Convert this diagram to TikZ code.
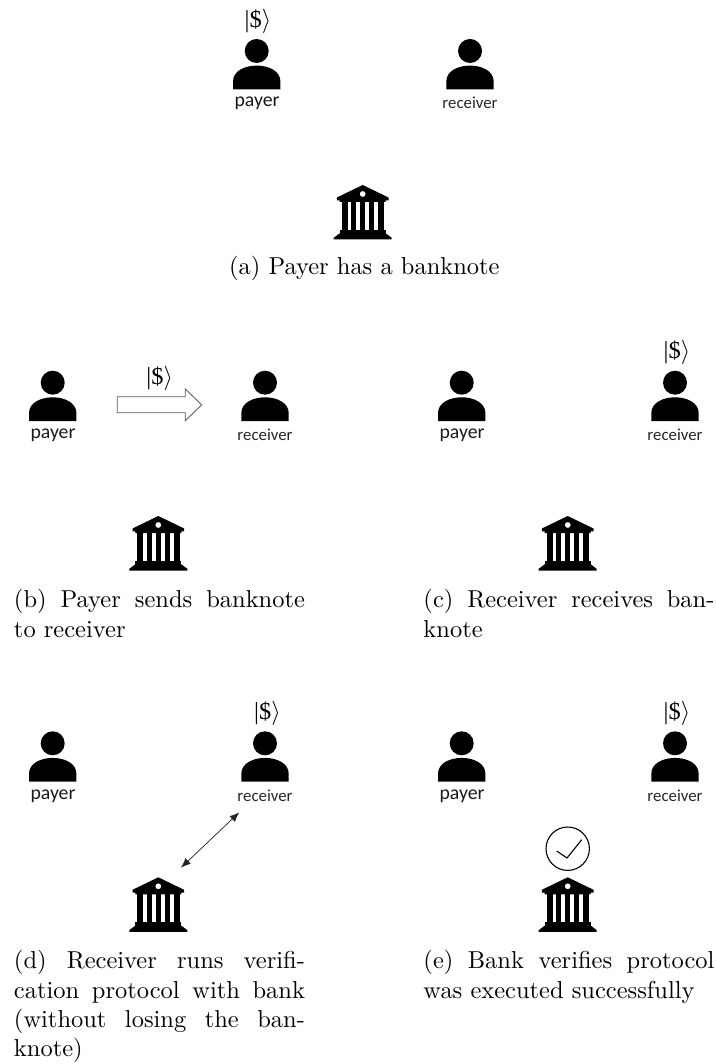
\documentclass[tikz,border=0pt]{standalone}
\usepackage{fontspec}
\newfontfamily\iconfont{Carlito}
\newfontfamily\ketfont{Liberation Serif}
\usetikzlibrary{arrows.meta}
\tikzset{
  x=0.4098pt,y=-0.4098pt,
  lbl/.style={inner sep=0pt,font=\iconfont\fontsize{6.9}{8}\selectfont,text=black!85},
  lblb/.style={inner sep=0pt,font=\iconfont\fontsize{8.1}{10}\selectfont,text=black!90},
  ket/.style={inner sep=0pt,font=\fontsize{10}{12}\selectfont},
  captxt/.style={inner sep=0pt,anchor=north west,text width=119.25pt,align=justify,font=\fontsize{10.03}{12}\selectfont},
  icon/.style={fill=black,draw=none},
  person/.pic={
    \fill[icon] (0,0) circle (12);
    \fill[icon] (-23.7,38.4) -- (-23.7,30.5) .. controls (-23.7,20) and (-12,14.6) .. (0,14.6) .. controls (12,14.6) and (23.7,20) .. (23.7,30.5) -- (23.7,38.4) -- cycle;
  },
  bank/.pic={
    \fill[icon,even odd rule] (0,0) -- (25.8,12.5) -- (25.8,15.3) -- (23,15.3) -- (23,17) -- (-23,17) -- (-23,15.3) -- (-25.8,15.3) -- (-25.8,12.5) -- cycle (0,9) circle (3);
    \foreach \cx in {-9,0,9} \fill[icon] (\cx-2.6,16.5) rectangle (\cx+2.6,46);
    \fill[icon] (-21.2,16.5) rectangle (-15.2,46);
    \fill[icon] (21.2,16.5) rectangle (15.2,46);
    \fill[icon] (-23,45) rectangle (23,48.6);
    \fill[icon] (-23,48.3) -- (23,48.3) -- (29,52.8) -- (29,54.5) -- (-29,54.5) -- (-29,52.8) -- cycle;
  }
}
\newcommand{\ketsym}{{\ketfont |\$}$\rangle$}
\begin{document}
\begin{tikzpicture}
\useasboundingbox (0,0) rectangle (716,1064);
% (a)
\pic at (256.7,51) {person};
\pic at (470,51) {person};
\node[lblb] (apayer) at (257,103) {payer};
\node[lbl] (arecv) at (470,102.5) {receiver};
\node[ket] (aket) at (258,21.5) {\ketsym};
\pic at (362.7,185) {bank};
\node[inner sep=0pt,font=\fontsize{10.03}{12}\selectfont] (acap) at (364.3,268) {(a) Payer has a banknote};
% (b)
\pic at (52.7,382.7) {person};
\pic at (265,382.7) {person};
\node[lblb] (bpayer) at (53,435) {payer};
\node[lbl] (brecv) at (265,434.5) {receiver};
\node[ket] (bket) at (159.7,378) {\ketsym};
\draw[draw=black!65,fill=white,line width=0.35pt] (117.3,396.7) -- (185.3,396.7) -- (185.3,389) -- (201.7,404.8) -- (185.3,420.7) -- (185.3,412.7) -- (117.3,412.7) -- cycle;
\pic at (158.3,516) {bank};
\node[captxt] (bcap) at (13.5,589) {(b) Payer sends banknote\linebreak to receiver};
% (c)
\pic at (461.7,382.7) {person};
\pic at (675,382.7) {person};
\node[lblb] (cpayer) at (462,435) {payer};
\node[lbl] (crecv) at (675,434.5) {receiver};
\node[ket] (cket) at (677,352) {\ketsym};
\pic at (567.7,516) {bank};
\node[captxt] (ccap) at (423,589) {(c) Receiver receives banknote};
% (d)
\pic at (52.7,743.3) {person};
\pic at (265,743.3) {person};
\node[lblb] (dpayer) at (53,796) {payer};
\node[lbl] (drecv) at (265,795.5) {receiver};
\node[ket] (dket) at (267.5,713.5) {\ketsym};
\pic at (158.3,877.3) {bank};
\coordinate (dfrom) at (239.3,812.3);
\coordinate (dto) at (181,867.7);
\draw[{Latex[length=4pt,width=3.2pt]}-{Latex[length=4pt,width=3.2pt]},line width=0.3pt,black!85] (dfrom) -- (dto);
\node[captxt] (dcap) at (13.5,950) {(d) Receiver runs verification protocol with bank (without losing the banknote)};
% (e)
\pic at (461.7,743.3) {person};
\pic at (675,743.3) {person};
\node[lblb] (epayer) at (462,796) {payer};
\node[lbl] (erecv) at (675,795.5) {receiver};
\node[ket] (eket) at (677,713.5) {\ketsym};
\pic at (567.7,877.3) {bank};
\draw[line width=0.45pt] (567.7,848.7) circle (21.7);
\draw[line width=0.45pt] (556.7,851) -- (567,858) -- (581.7,839.7);
\node[captxt] (ecap) at (423,950) {(e) Bank verifies protocol was executed successfully};
\end{tikzpicture}
\end{document}
